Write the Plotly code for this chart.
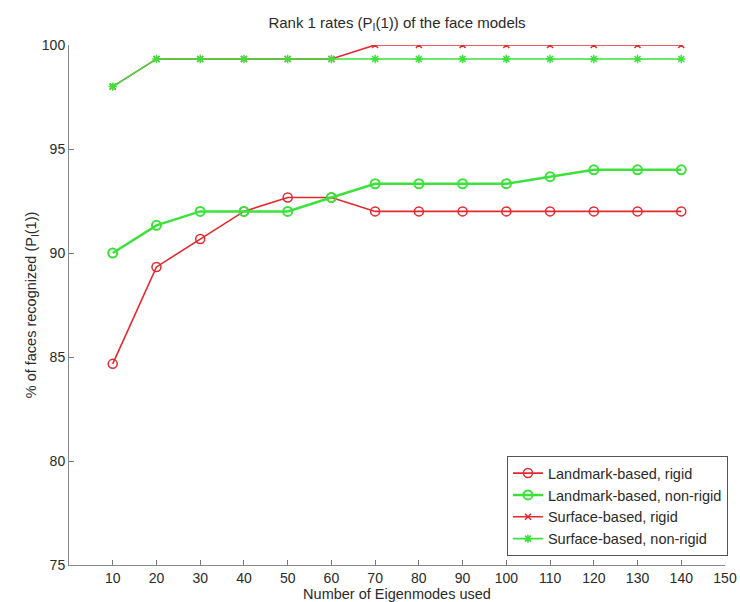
import plotly.graph_objects as go

x_vals = [10, 20, 30, 40, 50, 60, 70, 80, 90, 100, 110, 120, 130, 140]
landmark_rigid = [84.67, 89.33, 90.67, 92.0, 92.67, 92.67, 92.0, 92.0, 92.0, 92.0, 92.0, 92.0, 92.0, 92.0]
landmark_nonrigid = [90.0, 91.33, 92.0, 92.0, 92.0, 92.67, 93.33, 93.33, 93.33, 93.33, 93.67, 94.0, 94.0, 94.0]
surface_rigid = [98.0, 99.33, 99.33, 99.33, 99.33, 99.33, 100.0, 100.0, 100.0, 100.0, 100.0, 100.0, 100.0, 100.0]
surface_nonrigid = [98.0, 99.33, 99.33, 99.33, 99.33, 99.33, 99.33, 99.33, 99.33, 99.33, 99.33, 99.33, 99.33, 99.33]
x_ticks = [10, 20, 30, 40, 50, 60, 70, 80, 90, 100, 110, 120, 130, 140, 150]
y_ticks = [75, 80, 85, 90, 95, 100]

RED = "rgb(228,40,45)"
GREEN = "rgb(60,225,60)"
FONT = "Liberation Sans, Arial, Helvetica, sans-serif"

fig = go.Figure()
fig.add_trace(go.Scatter(x=x_vals, y=landmark_rigid, name="Landmark-based, rigid",
                         mode="lines+markers",
                         line=dict(color=RED, width=1.6),
                         marker=dict(symbol="circle-open", size=9, color=RED, line=dict(width=1.5))))
fig.add_trace(go.Scatter(x=x_vals, y=landmark_nonrigid, name="Landmark-based, non-rigid",
                         mode="lines+markers",
                         line=dict(color=GREEN, width=2.5),
                         marker=dict(symbol="circle-open", size=9, color=GREEN, line=dict(width=2))))
fig.add_trace(go.Scatter(x=x_vals, y=surface_rigid, name="Surface-based, rigid",
                         mode="lines+markers",
                         line=dict(color=RED, width=1.6),
                         marker=dict(symbol="x-thin-open", size=6, color=RED, line=dict(width=1.5, color=RED))))
fig.add_trace(go.Scatter(x=x_vals, y=surface_nonrigid, name="Surface-based, non-rigid",
                         mode="lines+markers",
                         line=dict(color=GREEN, width=1.6),
                         marker=dict(symbol="asterisk-open", size=7, color=GREEN, line=dict(width=1.5, color=GREEN))))

fig.update_layout(
    width=740, height=602,
    margin=dict(l=69, r=13, t=45, b=37),
    paper_bgcolor="white", plot_bgcolor="white",
    font=dict(family=FONT, size=14, color="#2a2a2a"),
    title=dict(text="Rank 1 rates (P<sub>I</sub>(1)) of the face models",
               xref="paper", x=0.5, xanchor="center", y=0.962, yanchor="middle",
               font=dict(size=15, color="#2a2a2a")),
    showlegend=True,
    legend=dict(x=1.0045, xanchor="right", y=0.017, yanchor="bottom",
                bgcolor="white", bordercolor="#555", borderwidth=1,
                font=dict(size=14.5, color="#2a2a2a"), tracegroupgap=0,
                itemwidth=30),
)
fig.update_xaxes(range=[0, 150], tickvals=x_ticks, ticks="inside", ticklen=5,
                 tickcolor="#777", showline=True, linecolor="#888", linewidth=1,
                 showgrid=False, zeroline=False, tickfont=dict(size=14), automargin=False,
                 title=dict(text="Number of Eigenmodes used", standoff=3, font=dict(size=14.5)))
fig.update_yaxes(range=[75, 100], tickvals=y_ticks, ticks="inside", ticklen=5,
                 tickcolor="#777", showline=True, linecolor="#888", linewidth=1,
                 showgrid=False, zeroline=False, tickfont=dict(size=14), automargin=False,
                 title=dict(text="% of faces recognized (P<sub>I</sub>(1))", standoff=1, font=dict(size=14.5)))

fig.write_html("out.html")
